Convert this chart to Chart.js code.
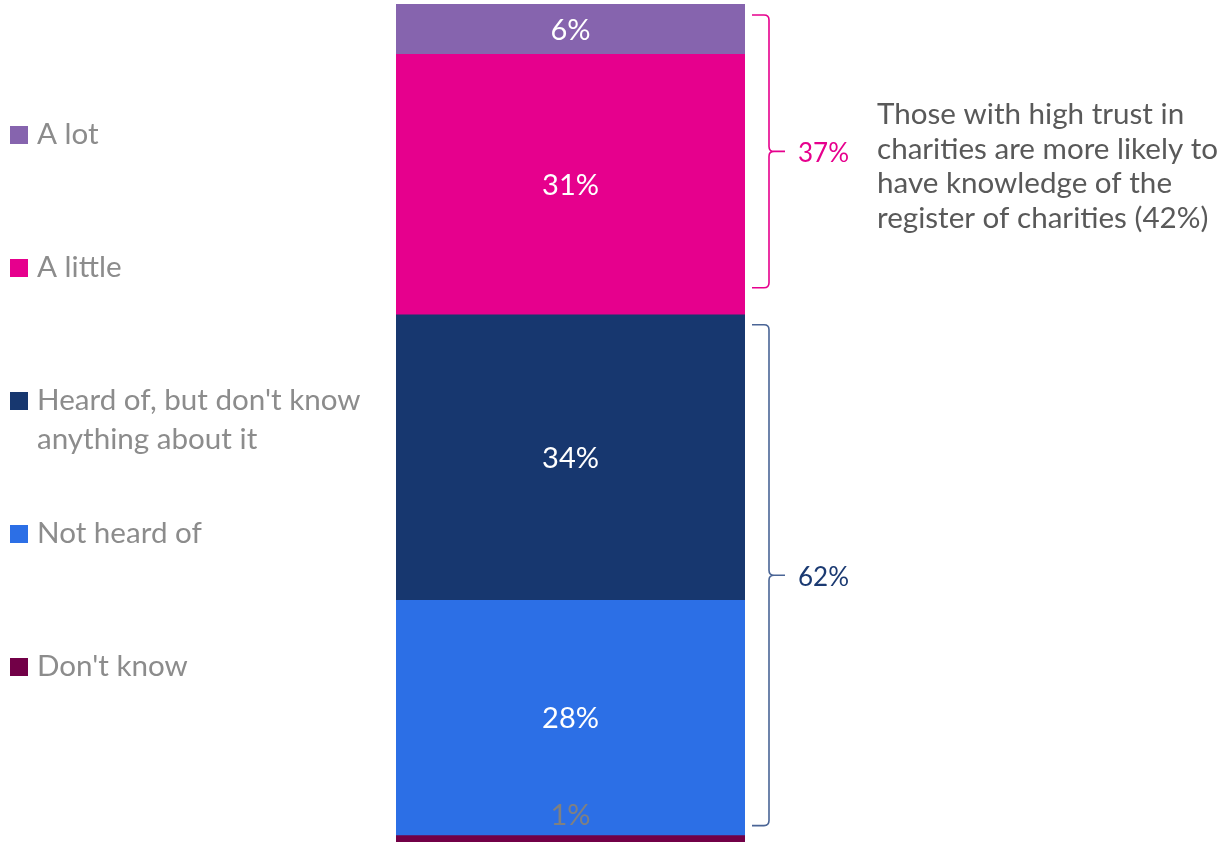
<!DOCTYPE html>
<html>
<head>
<meta charset="utf-8">
<script src="https://cdn.jsdelivr.net/npm/chart.js@4"></script>
<style>
  html, body { margin: 0; padding: 0; background: #ffffff; overflow: hidden; }
  canvas { display: block; }
</style>
</head>
<body>
<canvas id="knowledgeChart" width="1223" height="844"></canvas>
<script>
// Knowledge of the register of charities (top to bottom of the bar)
const categories = ['A lot', 'A little', "Heard of, but don't know anything about it", 'Not heard of', "Don't know"];
const legendLines = [['A lot'], ['A little'], ["Heard of, but don't know", 'anything about it'], ['Not heard of'], ["Don't know"]];
const shares = [6, 31, 34, 28, 1];
const colours = ['#8664ae', '#e6008d', '#17376f', '#2c6fe6', '#720047'];
const labelColours = ['#ffffff', '#ffffff', '#ffffff', '#ffffff', '#808080'];

// brackets: which categories they group and their colour
const knowGroup = [0, 1];
const heardGroup = [2, 3];
const knowColour = '#e6008d';
const heardColour = '#1b3a72';
const heardBraceColour = '#4a6596';

const noteLines = [
    'Those with high trust in',
    'charities are more likely to',
    'have knowledge of the',
    'register of charities (42%)'
];

const FONT = 'Lato, "Open Sans", sans-serif';

document.addEventListener("DOMContentLoaded", function () {
    const ctx = document.getElementById('knowledgeChart').getContext('2d');

    // stacked from the bottom up, so datasets go in reverse order
    const datasets = categories.map((name, i) => ({
        label: name,
        data: [shares[i]],
        backgroundColor: colours[i],
        borderWidth: 0,
        barPercentage: 1,
        categoryPercentage: 1,
        idx: i
    })).reverse();

    // value labels inside each segment
    const segmentLabels = {
        id: 'segmentLabels',
        afterDatasetsDraw(chart) {
            const c = chart.ctx;
            c.save();
            c.font = '29px ' + FONT;
            c.textAlign = 'center';
            c.textBaseline = 'middle';
            chart.data.datasets.forEach((ds, d) => {
                const el = chart.getDatasetMeta(d).data[0];
                const h = el.base - el.y;
                let y = (el.y + el.base) / 2;
                if (h < 30) y = el.y - 21;
                c.fillStyle = labelColours[ds.idx];
                c.fillText(ds.data[0] + '%', el.x, y + 1);
            });
            c.restore();
        }
    };

    // legend on the left, square markers
    const sideLegend = {
        id: 'sideLegend',
        afterDraw(chart) {
            const c = chart.ctx;
            c.save();
            c.font = '29.6px ' + FONT;
            c.textBaseline = 'alphabetic';
            c.textAlign = 'left';
            const top = 126, step = 133;
            legendLines.forEach((lines, i) => {
                const y = top + i * step;
                c.fillStyle = colours[i];
                c.fillRect(10, y, 18, 18);
                c.fillStyle = '#8c8c8c';
                lines.forEach((t, k) => c.fillText(t, 37, y + 18 + k * 39));
            });
            c.restore();
        }
    };

    function drawBrace(c, x, top, bottom, colour, width) {
        const mid = (top + bottom) / 2;
        const r = 5;
        c.strokeStyle = colour;
        c.lineWidth = width;
        c.beginPath();
        c.moveTo(x - 17, top);
        c.lineTo(x - r, top);
        c.quadraticCurveTo(x, top, x, top + r);
        c.lineTo(x, mid - r);
        c.quadraticCurveTo(x, mid, x + r, mid);
        c.lineTo(x + 16, mid);
        c.moveTo(x + r, mid);
        c.quadraticCurveTo(x, mid, x, mid + r);
        c.lineTo(x, bottom - r);
        c.quadraticCurveTo(x, bottom, x - r, bottom);
        c.lineTo(x - 17, bottom);
        c.stroke();
        return mid;
    }

    // grouped totals with braces, plus the note
    const braces = {
        id: 'braces',
        afterDraw(chart) {
            const c = chart.ctx;
            const y = chart.scales.y;
            const x = chart.chartArea.right + 24;
            const cum = i => shares.slice(i).reduce((a, b) => a + b, 0);
            c.save();

            const knowTotal = knowGroup.reduce((a, i) => a + shares[i], 0);
            const kTop = y.getPixelForValue(cum(knowGroup[0])) + 11;
            const kBot = y.getPixelForValue(cum(knowGroup[knowGroup.length - 1] + 1)) - 27;
            const kMid = drawBrace(c, x, kTop, kBot, knowColour, 1.6);

            const heardTotal = heardGroup.reduce((a, i) => a + shares[i], 0);
            const hTop = y.getPixelForValue(cum(heardGroup[0])) + 10;
            const hBot = y.getPixelForValue(cum(heardGroup[heardGroup.length - 1] + 1)) - 10;
            const hMid = drawBrace(c, x, hTop, hBot, heardBraceColour, 1.6);

            c.font = '26px ' + FONT;
            c.textBaseline = 'middle';
            c.textAlign = 'left';
            c.fillStyle = knowColour;
            c.fillText(knowTotal + '%', x + 29, kMid + 2);
            c.fillStyle = heardColour;
            c.fillText(heardTotal + '%', x + 29, hMid + 2);

            c.font = '29.6px ' + FONT;
            c.textBaseline = 'alphabetic';
            c.fillStyle = '#595959';
            noteLines.forEach((t, k) => c.fillText(t, 877, 124 + k * 34.7));
            c.restore();
        }
    };

    new Chart(ctx, {
        type: 'bar',
        data: {
            labels: [''],
            datasets: datasets
        },
        options: {
            responsive: false,
            animation: false,
            devicePixelRatio: 1,
            layout: {
                padding: { left: 396, right: 478, top: 4, bottom: 0 }
            },
            plugins: {
                legend: { display: false },
                tooltip: { enabled: false }
            },
            scales: {
                x: { stacked: true, display: false },
                y: { stacked: true, display: false, min: 0, max: 100 }
            }
        },
        plugins: [segmentLabels, sideLegend, braces]
    });
});
</script>
</body>
</html>
